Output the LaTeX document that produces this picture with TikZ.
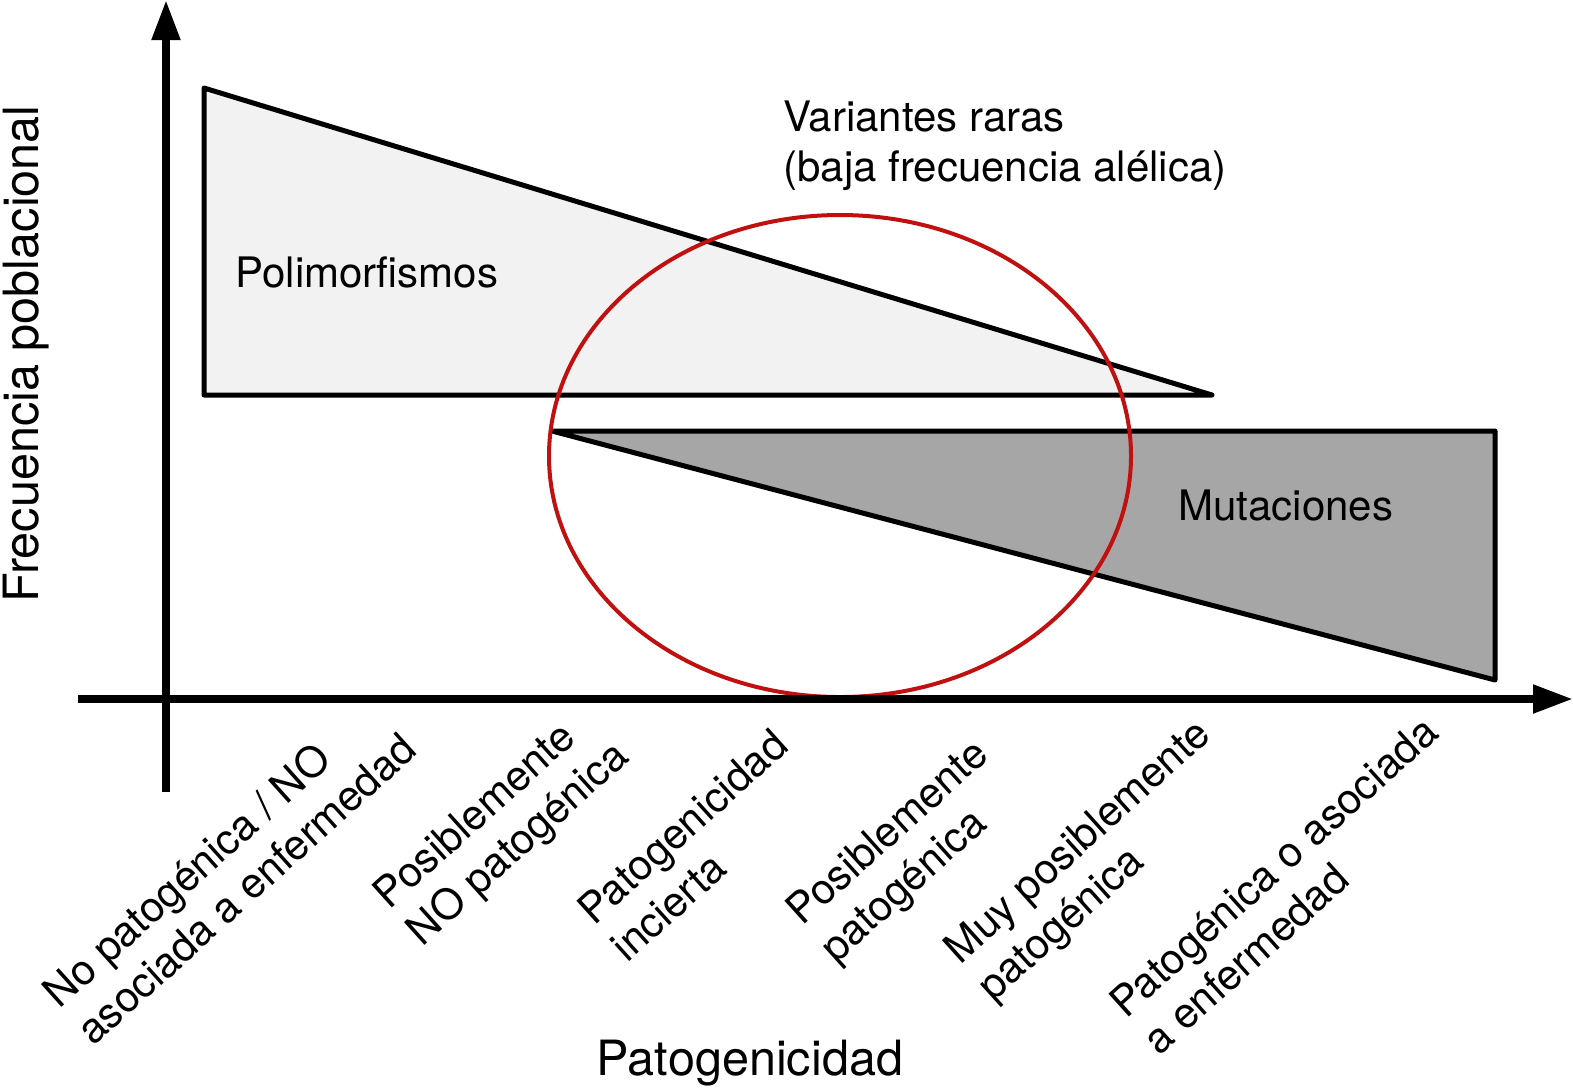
\documentclass[tikz,border=0pt]{standalone}
\usepackage{fontspec}
\setmainfont{TeX Gyre Heros}
\usetikzlibrary{arrows.meta}
\definecolor{polyfill}{RGB}{242,242,242}
\definecolor{mutfill}{RGB}{166,166,166}
\definecolor{ringred}{RGB}{192,16,16}
\begin{document}
\begin{tikzpicture}[x=0.5pt,y=-0.5pt,
  axisline/.style={line width=4pt,-{Triangle[length=20pt,width=13.5pt]}},
  wedge/.style={draw=black,line width=2.5pt,line join=round},
  ring/.style={draw=ringred,line width=2pt},
  lbl/.style={font=\fontsize{21}{25}\selectfont,inner sep=0pt},
  big/.style={font=\fontsize{24.3}{28}\selectfont,inner sep=0pt},
  cat/.style={lbl,rotate=42,align=left}]
\useasboundingbox (0,0) rectangle (1573,1089);
% shapes
\draw[wedge,fill=polyfill] (204,88) -- (204,395) -- (1212,395) -- cycle;
\draw[wedge,fill=mutfill] (552,431) -- (1495,431) -- (1495,680) -- cycle;
\draw[ring] (840,456) ellipse [x radius=291, y radius=241];
% axes
\coordinate (yb) at (166,792);
\coordinate (yt) at (166,0);
\coordinate (xl) at (78,699);
\coordinate (xr) at (1573,699);
\draw[axisline] (yb) -- (yt);
\draw[axisline] (xl) -- (xr);
% texts
\node[lbl,anchor=base west] (poly) at (235,287) {Polimorfismos};
\node[lbl,anchor=base west] (mut) at (1178,520) {Mutaciones};
\node[lbl,anchor=base west] (var1) at (783,131) {Variantes raras};
\node[lbl,anchor=base west] (var2) at (783,181) {(baja frecuencia alélica)};
\node[big,anchor=base] (xt) at (750,1075) {Patogenicidad};
\node[big,anchor=base,rotate=90] (yt2) at (38,354) {Frecuencia poblacional};
% categories
\node[cat] (c1) at (229,870) {No patogénica / NO\\asociada a enfermedad};
\node[cat] (c2) at (503,827) {Posiblemente\\NO patogénica};
\node[cat] (c3) at (699,845) {Patogenicidad\\incierta};
\node[cat] (c4) at (906,853) {Posiblemente\\patogénica};
\node[cat] (c5) at (1096,862) {Muy posiblemente\\patogénica};
\node[cat] (c6) at (1290,885) {Patogénica o asociada\\a enfermedad};
\end{tikzpicture}
\end{document}
